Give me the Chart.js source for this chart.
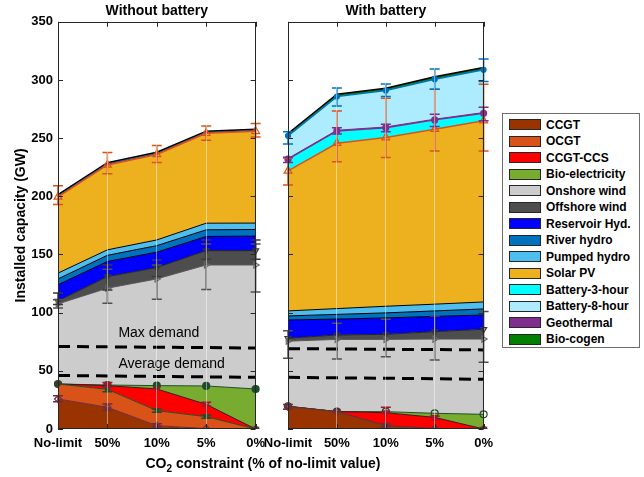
<!DOCTYPE html>
<html>
<head>
<meta charset="utf-8">
<script src="https://cdn.jsdelivr.net/npm/chart.js@4/dist/chart.umd.min.js"></script>
<style>
  html, body { margin: 0; padding: 0; background: #fff; width: 644px; height: 477px; overflow: hidden;
    font-family: "Liberation Sans", Arial, sans-serif; }
  #c1 { position: absolute; left: 0; top: 0; }
  #c2 { position: absolute; left: 250px; top: 0; }
  #xtitle { position: absolute; left: 0; top: 455px; width: 526px; text-align: center;
    font: bold 14px "Liberation Sans", Arial, sans-serif; color: #000; line-height: 16px; white-space: nowrap; }
  #xtitle sub { font-size: 10px; vertical-align: -4px; line-height: 0; }
  #legend { position: absolute; left: 502px; top: 113px; width: 138px; height: 235px; box-sizing: border-box;
    border: 1px solid #6e6e6e; background: #fff; padding-top: 2.5px; }
  .row { height: 16.5px; display: flex; align-items: center; font: bold 12px "Liberation Sans", Arial, sans-serif; color: #000; white-space: nowrap; }
  .sw { width: 30px; height: 9px; border: 1px solid #262626; margin-left: 6px; margin-right: 5px; flex: none; }
</style>
</head>
<body>
<canvas id="c1" width="272" height="477"></canvas>
<canvas id="c2" width="250" height="477"></canvas>
<div id="xtitle">CO<sub>2</sub> constraint (% of no-limit value)</div>
<div id="legend"></div>
<script>
// ---------- categories / ticks ----------
const categories = ['No-limit', '50%', '10%', '5%', '0%'];
const yTicks = [0, 50, 100, 150, 200, 250, 300, 350];
const panelTitles = ['Without battery', 'With battery'];

// ---------- legend (reference order) ----------
const seriesNames = ['CCGT', 'OCGT', 'CCGT-CCS', 'Bio-electricity', 'Onshore wind', 'Offshore wind',
  'Reservoir Hyd.', 'River hydro', 'Pumped hydro', 'Solar PV', 'Battery-3-hour', 'Battery-8-hour',
  'Geothermal', 'Bio-cogen'];
const seriesColors = ['#993300', '#D95319', '#FF0000', '#77AC30', '#CCCCCC', '#4D4D4D',
  '#0000FF', '#0072BD', '#4DBEEE', '#EDB120', '#00FFFF', '#ADEBFF', '#7E2F8E', '#008000'];

// ---------- Without battery (GW, per technology) ----------
const ccgtNB      = [25.8, 18.7, 2.9, 0.3, 0];
const ocgtNB      = [12.9, 15.4, 12.9, 10.3, 0];
const ccsNB       = [0, 3.2, 18.6, 10.6, 0];
const bioNB       = [0, 0.5, 2.9, 15.8, 34.4];
const onshoreNB   = [68.8, 83.2, 91.7, 104, 106.6];
const offshoreNB  = [2.5, 10, 9.7, 12.3, 12.3];
const reservoirNB = [14, 13, 13.3, 12.2, 12.5];
const riverNB     = [5, 5.3, 5.6, 5.7, 5.7];
const pumpedNB    = [5, 4.7, 4.9, 5.7, 5.5];
const solarNB     = [65.5, 73, 73.5, 77.3, 78.9];
const bat3NB      = [0, 0, 0, 0, 0];
const bat8NB      = [0, 0, 0, 0, 0];
const geoNB       = [0.5, 0.5, 0.5, 0.5, 0.5];
const cogenNB     = [1.5, 1.4, 1.4, 1.3, 1.3];
const maxDemandNB = [71, 70.6, 70.3, 70, 69.6];
const avgDemandNB = [46, 45.6, 45.2, 44.8, 44.4];

// ---------- With battery ----------
const ccgtB      = [19.2, 14.9, 2.9, 0.3, 0];
const ocgtB      = [0.3, 0, 0, 0, 0];
const ccsB       = [0, 0.1, 11.1, 9.7, 0];
const bioB       = [0, 0, 0.9, 3.5, 12.6];
const onshoreB   = [56, 62, 62.1, 63.8, 64.7];
const offshoreB  = [2.5, 3.8, 4.4, 6.4, 8.4];
const reservoirB = [15.7, 13.7, 14.1, 13.1, 12.3];
const riverB     = [3.5, 4, 4.3, 4.7, 5.2];
const pumpedB    = [4.3, 5, 5.7, 5.8, 6];
const solarB     = [120.3, 142.1, 145, 150.4, 155.8];
const bat3B      = [10.1, 10.6, 8.5, 8, 6.4];
const bat8B      = [19.5, 28.9, 31.3, 34.4, 36.7];
const geoB       = [0.6, 0.6, 0.6, 0.6, 0.6];
const cogenB     = [2, 2, 2, 2, 2];
const maxDemandB = [69, 68.8, 68.5, 68.3, 68];
const avgDemandB = [44.4, 44, 43.6, 43.2, 42.7];

// ---------- error bar ranges [low, high] (GW, absolute) ----------
const errCcgtNB     = [[23.5, 28.5], [16, 21.5], [1.5, 4.5], null, null];
const errOcgtNB     = [null, [32, 36], [14.5, 17.2], [9.3, 12], null];
const errCcsNB      = [null, [36, 40], null, [19.8, 23], null];
const errOnshoreNB  = [[104, 111], [108, 137.3], [111.5, 141], [120, 159], [117.8, 159]];
const errOffshoreNB = [[107, 117], [119.5, 141], [131, 145.3], [146, 162.5], [146, 162.5]];
const errSolarNB    = [[193, 209], [219.3, 237.6], [229, 243.6], [248.2, 260.5], [251, 262.5]];

const errCcgtB    = [[17, 21], null, [1.5, 4.5], null, null];
const errCcsB     = [null, null, [14, 18.7], [8, 11], null];
const errOnshoreB = [[60.8, 84.5], [60.2, 90.9], [62.2, 94.3], [59.3, 97.2], [57.3, 100.9]];
const errSolarB   = [[209.8, 233], [229.8, 273.4], [233.3, 284.3], [239, 292], [239, 296.4]];
const errBat3B    = [[229, 233.5], [253.6, 259], [255.6, 262], [260, 270.6], [265, 276.6]];
const errBat8B    = [[245, 255.6], [277.7, 293], [285.7, 296.6], [292, 309.5], [298.6, 318]];

// ---------- legend ----------
const legendEl = document.getElementById('legend');
seriesNames.forEach((n, i) => {
  const r = document.createElement('div'); r.className = 'row';
  const s = document.createElement('div'); s.className = 'sw'; s.style.background = seriesColors[i];
  const t = document.createElement('span'); t.textContent = n;
  r.appendChild(s); r.appendChild(t); legendEl.appendChild(r);
});

// ---------- styles (keyed by series index) ----------
const styles = [
  {line: '#6E2C3C', pt: 'rectRot', r: 3.5, pc: '#6E2C3C', fillPt: false},
  {line: '#1E4D2B', pt: 'rect', r: 2.5, pc: '#1E4D2B', fillPt: false},
  {line: '#3A1A1A', pt: 'triangle', rot: 180, r: 3.5, pc: '#A2142F', fillPt: false},
  {line: '#1E4D2B', pt: 'circle', r: 3.5, pc: '#1E4D2B', fillPt: true},
  {line: '#555555', pt: 'triangle', rot: 90, r: 3.5, pc: '#666666', fillPt: false},
  {line: '#222222', pt: 'triangle', rot: 180, r: 3.5, pc: '#333333', fillPt: false},
  {line: '#000000', r: 0},
  {line: '#000000', r: 0},
  {line: '#000000', r: 0},
  {line: '#D95319', pt: 'triangle', r: 4.5, pc: '#D95319', fillPt: false, w: 1.5},
  {line: '#7E2F8E', pt: 'circle', r: 3, pc: '#7E2F8E', fillPt: true, w: 1.5},
  {line: '#0072BD', pt: 'circle', r: 2.5, pc: '#0072BD', fillPt: true, w: 1.5},
  {line: '#7E2F8E', r: 0},
  {line: '#000000', r: 0, w: 1.5}
];
// stacking order (bottom to top) as series indices
const stackOrder = [0, 1, 2, 3, 4, 5, 6, 7, 8, 9, 10, 12, 11, 13];

function buildDatasets(values, maxD, avgD, withBattery) {
  const ds = stackOrder.map((si, k) => {
    const st = styles[si];
    let r = st.r || 0;
    if (!withBattery && (si === 10 || si === 11)) r = 0;
    let filledPt = st.fillPt;
    if (withBattery && si === 3) filledPt = false;
    return {
      label: seriesNames[si],
      data: values[si],
      backgroundColor: seriesColors[si],
      borderColor: st.line,
      borderWidth: st.w || 1,
      fill: k === 0 ? 'origin' : '-1',
      tension: 0,
      pointStyle: st.pt || 'circle',
      pointRotation: st.rot || 0,
      pointRadius: r,
      pointBorderWidth: 1.2,
      pointBorderColor: st.pc || st.line,
      pointBackgroundColor: filledPt ? (st.pc || st.line) : 'rgba(0,0,0,0)',
      stack: 'cap'
    };
  });
  [maxD, avgD].forEach((d, j) => ds.push({
    label: j ? 'Average demand' : 'Max demand',
    data: d, stack: 'demand' + j, fill: false, borderColor: '#000', borderWidth: 3,
    borderDash: [12, 7], borderCapStyle: 'butt', pointRadius: 0, order: -1
  }));
  return ds;
}

const overlay = {
  id: 'overlay',
  afterDatasetsDraw(chart, args, opts) {
    const {ctx, scales: {x, y}} = chart;
    (opts.errorBars || []).forEach(eb => {
      ctx.save(); ctx.strokeStyle = eb.color; ctx.lineWidth = 1.5;
      eb.ranges.forEach((rg, i) => {
        if (!rg) return;
        const px = x.getPixelForValue(i);
        const y1 = y.getPixelForValue(rg[0]), y2 = y.getPixelForValue(rg[1]);
        ctx.beginPath();
        ctx.moveTo(px, y1); ctx.lineTo(px, y2);
        ctx.moveTo(px - 5, y1); ctx.lineTo(px + 5, y1);
        ctx.moveTo(px - 5, y2); ctx.lineTo(px + 5, y2);
        ctx.stroke();
      });
      ctx.restore();
    });
    (opts.notes || []).forEach(n => {
      ctx.save();
      ctx.font = '14px "Liberation Sans", Arial, sans-serif';
      ctx.fillStyle = '#000'; ctx.textBaseline = 'middle'; ctx.textAlign = 'left';
      ctx.fillText(n.text, x.getPixelForValue(n.xi) + n.dx, y.getPixelForValue(n.yv));
      ctx.restore();
    });
  },
  afterDraw(chart) {
    const {ctx, chartArea: a, scales: {x, y}} = chart;
    ctx.save();
    ctx.strokeStyle = '#262626'; ctx.lineWidth = 1;
    ctx.strokeRect(Math.round(a.left) + 0.5, Math.round(a.top) + 0.5,
      Math.round(a.right - a.left) - 1, Math.round(a.bottom - a.top) - 1);
    ctx.beginPath();
    yTicks.forEach(v => {
      const py = Math.round(y.getPixelForValue(v)) + 0.5;
      ctx.moveTo(a.left, py); ctx.lineTo(a.left + 5, py);
      ctx.moveTo(a.right, py); ctx.lineTo(a.right - 5, py);
    });
    categories.forEach((c, i) => {
      const px = Math.round(x.getPixelForValue(i)) + 0.5;
      ctx.moveTo(px, a.bottom); ctx.lineTo(px, a.bottom - 5);
      ctx.moveTo(px, a.top); ctx.lineTo(px, a.top + 5);
    });
    ctx.stroke();
    ctx.restore();
  }
};

Chart.defaults.font.family = '"Liberation Sans", Arial, sans-serif';
Chart.defaults.color = '#000';

function makeChart(id, values, maxD, avgD, opts) {
  return new Chart(document.getElementById(id), {
    type: 'line',
    data: { labels: categories, datasets: buildDatasets(values, maxD, avgD, opts.withBattery) },
    plugins: [overlay],
    options: {
      responsive: false, animation: false, devicePixelRatio: 1,
      layout: { padding: { left: 0, right: opts.padRight, top: 0, bottom: 0 } },
      plugins: {
        legend: { display: false }, tooltip: { enabled: false },
        title: { display: true, text: opts.title, fullSize: false, color: '#000',
          font: { size: 14, weight: 'bold' }, padding: { top: 3, bottom: 2 } },
        overlay: { errorBars: opts.errorBars, notes: opts.notes || [] }
      },
      scales: {
        x: {
          type: 'category', offset: false,
          grid: { display: true, drawOnChartArea: true, drawTicks: false, color: 'rgba(255,255,255,0.45)', lineWidth: 1, z: 1 },
          border: { display: false },
          ticks: { color: '#000', font: { size: 13, weight: 'bold' }, padding: 7, maxRotation: 0, autoSkip: false },
          afterFit: s => { s.height = 48; }
        },
        y: {
          stacked: true, min: 0, max: 350,
          grid: { display: false, drawTicks: false },
          border: { display: false },
          ticks: { display: opts.showY, stepSize: 50, color: '#000', font: { size: 13, weight: 'bold' }, padding: 5 },
          title: { display: opts.showY, text: 'Installed capacity (GW)', color: '#000',
            font: { size: 14, weight: 'bold' }, padding: { top: 12.5, bottom: 0 } },
          afterFit: s => { s.width = opts.yWidth; }
        }
      }
    }
  });
}

makeChart('c1',
  [ccgtNB, ocgtNB, ccsNB, bioNB, onshoreNB, offshoreNB, reservoirNB, riverNB, pumpedNB, solarNB, bat3NB, bat8NB, geoNB, cogenNB],
  maxDemandNB, avgDemandNB,
  { title: panelTitles[0], padRight: 13, yWidth: 58, showY: true, withBattery: false,
    errorBars: [
      {color: '#505050', ranges: errOnshoreNB}, {color: '#3a3a3a', ranges: errOffshoreNB},
      {color: '#D95319', ranges: errSolarNB}, {color: '#6E2C3C', ranges: errCcgtNB},
      {color: '#1E4D2B', ranges: errOcgtNB}, {color: '#A2142F', ranges: errCcsNB}],
    notes: [{text: 'Max demand', xi: 1, dx: 11, yv: 82.5}, {text: 'Average demand', xi: 1, dx: 11, yv: 56}] });

makeChart('c2',
  [ccgtB, ocgtB, ccsB, bioB, onshoreB, offshoreB, reservoirB, riverB, pumpedB, solarB, bat3B, bat8B, geoB, cogenB],
  maxDemandB, avgDemandB,
  { title: panelTitles[1], padRight: 11, yWidth: 38, showY: false, withBattery: true,
    errorBars: [
      {color: '#505050', ranges: errOnshoreB}, {color: '#D95319', ranges: errSolarB},
      {color: '#7E2F8E', ranges: errBat3B}, {color: '#0072BD', ranges: errBat8B},
      {color: '#6E2C3C', ranges: errCcgtB}, {color: '#A2142F', ranges: errCcsB}] });
</script>
</body>
</html>
